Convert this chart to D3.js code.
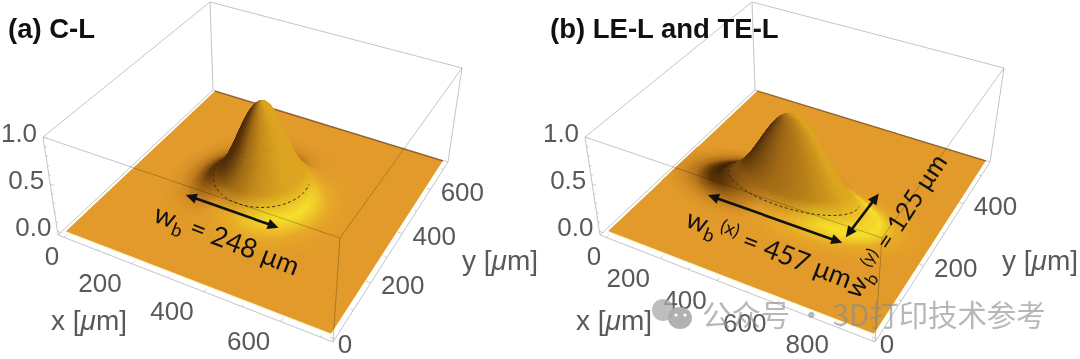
<!DOCTYPE html>
<html>
<head>
<meta charset="utf-8">
<script src="https://cdn.jsdelivr.net/npm/d3@7"></script>
<style>
  html, body { margin:0; padding:0; background:#fff; }
  svg { display:block; }
</style>
</head>
<body>
<div id="plot"></div>
<script>
// beam height vs normalised radius (rho = r / (w/2)), step 0.1
const rhoStep = 0.1;
const profileA = [1, .98, .925, .84, .73, .61, .49, .385, .30, .235, .18, .125, .085, .055, .035, .02, .012, .006, .003, .001, 0, 0, 0];
const profileB = [.95, .935, .885, .80, .69, .575, .46, .36, .28, .22, .17, .12, .085, .055, .035, .02, .012, .006, .003, .001, 0, 0, 0];

const xTicksA = [0, 200, 400, 600];
const yTicksA = [0, 200, 400, 600];
const xTicksB = [0, 200, 400, 600, 800];
const yTicksB = [0, 200, 400];
const zTicks = [0, 0.5, 1];

const widthA = [248, 248];
const widthB = [457, 125];
const centerA = [352, 360];
const centerB = [430, 235];
const rangeA = [720, 720];
const rangeB = [900, 540];

let [ figWidth, figHeight ] = [1080, 359];
let svg = d3.select('#plot').append('svg')
            .attr('width', figWidth)
            .attr('height', figHeight);

const sansFont = '"Liberation Sans", Arial, sans-serif';
const noteFont = 'Lato, "Open Sans", sans-serif';

// shading ramps: t is the lit side of the surface normal, 0 = flat
const footColor = d3.scaleLinear()
    .domain([-1, -.6, -.25, 0, .25, .6, 1])
    .range(['#3e2206', '#5c3509', '#b0701a', '#e29b2b', '#e8ac28', '#f6e02c', '#f2cf2a'])
    .clamp(true);
const bodyColor = d3.scaleLinear()
    .domain([-1, -.55, -.1, .35, .8, 1.3])
    .range(['#3a2006', '#57330b', '#a06a16', '#c58c1b', '#dba320', '#e3ab24'])
    .clamp(true);

// square -> quad perspective map, corners in order (0,0) (1,0) (1,1) (0,1)
function quadMap(q){
  let [[x0,y0],[x1,y1],[x2,y2],[x3,y3]] = q;
  let sx = x0-x1+x2-x3, sy = y0-y1+y2-y3;
  let dx1 = x1-x2, dx2 = x3-x2, dy1 = y1-y2, dy2 = y3-y2;
  let den = dx1*dy2-dx2*dy1;
  let g = (sx*dy2-dx2*sy)/den, h = (dx1*sy-sx*dy1)/den;
  let a = x1-x0+g*x1, b = x3-x0+h*x3, d = y1-y0+g*y1, e = y3-y0+h*y3;
  return (u,v) => {
    let w = g*u+h*v+1;
    return [(a*u+b*v+x0)/w, (d*u+e*v+y0)/w];
  };
}

function drawPanel(p){
  let g = svg.append('g').attr('id', p.id);

  let scX = d3.scaleLinear().domain(p.xDomain).range([0,1]);
  let scY = d3.scaleLinear().domain(p.yDomain).range([0,1]);
  let scZ = d3.scaleLinear().domain([-0.04,1]).range([0,1]);
  let floorMap = quadMap(p.floor), topMap = quadMap(p.top);

  let project = function(x,y,z){
    let a = floorMap(scX(x),scY(y)), b = topMap(scX(x),scY(y)), w = scZ(z);
    return [a[0]+(b[0]-a[0])*w, a[1]+(b[1]-a[1])*w];
  };

  let [x0,x1] = p.xDomain, [y0,y1] = p.yDomain;
  let [xMax,yMax] = p.range;
  let line = d3.line();
  let boxLine = '#c4c4c4';

  let edge = function(a,b,blend){
    g.append('path').attr('d', line([a,b]))
      .attr('fill','none').attr('stroke',boxLine).attr('stroke-width',1)
      .style('mix-blend-mode', blend ? 'multiply' : null);
  };

  // back of the box
  edge(project(x0,y1,-0.04), project(x0,y1,1));
  edge(project(x0,y0,1), project(x0,y1,1));
  edge(project(x0,y1,1), project(x1,y1,1));
  edge(project(x1,y1,1), project(x1,y1,-0.04));
  edge(project(x0,y0,-0.04), project(x0,y1,-0.04));
  edge(project(x0,y1,-0.04), project(x1,y1,-0.04));

  // floor of the surface
  let corners = [[0,0],[xMax,0],[xMax,yMax],[0,yMax]].map(c => project(c[0],c[1],0));
  g.append('path')
    .attr('d', line(corners.map((c,i) => [c[0], c[1]+(i<2?1.2:0)]))+'Z')
    .attr('fill','#fdf3c8');
  g.append('path')
    .attr('d', line(corners)+'Z')
    .attr('fill','#e29b2b');
  g.append('path')
    .attr('d', line([corners[3],corners[2]]))
    .attr('fill','none').attr('stroke','#8f5f25').attr('stroke-width',1.2);

  // surface height
  let profile = [...p.profile.slice(1).reverse(), ...p.profile];
  let rhoMax = (p.profile.length-1)*rhoStep;
  let basis = d3.interpolateBasis(profile);
  let height = function(x,y){
    let rho = Math.hypot((x-p.center[0])/(p.width[0]/2), (y-p.center[1])/(p.width[1]/2));
    if (rho >= rhoMax) return 0;
    return basis((rho+rhoMax)/(2*rhoMax));
  };

  // surface cells, far ones first
  let n = 110;
  let xs = d3.scaleLinear().domain([0,n]).range([p.center[0]-p.width[0]*1.1, p.center[0]+p.width[0]*1.1]);
  let ys = d3.scaleLinear().domain([0,n]).range([p.center[1]-p.width[1]*1.1, p.center[1]+p.width[1]*1.1]);
  let cells = [];
  d3.range(n).forEach(i => d3.range(n).forEach(j => {
    let xa = xs(i), xb = xs(i+1), ya = ys(j), yb = ys(j+1);
    if (xa < 0 || ya < 0 || xb > xMax || yb > yMax) return;
    let za = height(xa,ya), zb = height(xb,ya), zc = height(xb,yb), zd = height(xa,yb);
    if (Math.max(za,zb,zc,zd) <= 0) return;
    // slopes in box units
    let gx = (zb+zc-za-zd)/2/((xb-xa)/xMax)*p.zScale;
    let gy = (zc+zd-za-zb)/2/((yb-ya)/yMax)*p.zScale;
    let len = Math.hypot(gx,gy,1);
    let nz = 1/len;
    let t = (-gx*p.light[0]-gy*p.light[1])/len;
    let tf = (-gx*p.footLight[0]-gy*p.footLight[1])/len*p.footGain;
    // low on the foot the slope only tints the floor, higher up the body ramp takes over
    let w = d3.scaleLinear().domain([.1,.26]).range([0,1]).clamp(true)((za+zb+zc+zd)/4);
    let col = d3.interpolateRgb(footColor(tf-.2*(1-nz)), bodyColor(t+.7*nz*nz))(w);
    let pts = [project(xa,ya,za),project(xb,ya,zb),project(xb,yb,zc),project(xa,yb,zd)];
    cells.push({pts, col, depth: project((xa+xb)/2,(ya+yb)/2,0)[1]});
  }));
  cells.sort((a,b) => d3.ascending(a.depth,b.depth));
  g.append('g').selectAll('path').data(cells).join('path')
    .attr('d', d => line(d.pts)+'Z')
    .attr('fill', d => d.col)
    .attr('stroke', d => d.col)
    .attr('stroke-width', .7);

  // dashed contour, front side only
  let contour = d3.range(p.dash[0], p.dash[1], .04).map(a => {
    let x = p.center[0]+Math.cos(a)*p.width[0]/2, y = p.center[1]+Math.sin(a)*p.width[1]/2;
    return project(x,y,height(x,y));
  });
  g.append('path').attr('d', d3.line().curve(d3.curveCatmullRom)(contour))
    .attr('fill','none').attr('stroke','#3f2a06').attr('stroke-width',1)
    .attr('stroke-dasharray','3 2.5');

  // front of the box, drawn over the surface
  edge(project(x0,y0,1), project(x1,y0,1), true);
  edge(project(x1,y0,1), project(x1,y1,1), true);
  edge(project(x1,y0,1), project(x1,y0,-0.04), true);
  edge(project(x0,y0,-0.04), project(x0,y0,1));
  edge(project(x0,y0,-0.04), project(x1,y0,-0.04));
  edge(project(x1,y0,-0.04), project(x1,y1,-0.04));

  // minor and major ticks on the box edges
  let tickLine = function(a,b){
    g.append('path').attr('d', line([a,b]))
      .attr('fill','none').attr('stroke','#bdbdbd').attr('stroke-width',.8);
  };
  d3.range(0, xMax+1, 100).forEach(v => {
    let a = project(v,y0,-0.04), b = project(v, y0+(y1-y0)*(v%200 ? .008 : .016), -0.04);
    tickLine(a,b);
  });
  d3.range(0, yMax+1, 100).forEach(v => {
    let a = project(x1,v,-0.04), b = project(x1-(x1-x0)*(v%200 ? .008 : .016), v, -0.04);
    tickLine(a,b);
  });
  d3.range(0, 1.01, .1).forEach(v => {
    let a = project(x0,y0,v), b = project(x0+(x1-x0)*(Math.round(v*10)%5 ? .008 : .016), y0, v);
    tickLine(a,b);
  });

  // tick labels
  let label = function(str,pos,dx,dy){
    return g.append('text').attr('x',pos[0]+dx).attr('y',Math.min(pos[1]+dy,344))
      .attr('dy','.35em').attr('text-anchor','middle')
      .attr('font-family',sansFont).attr('font-size',p.labelSize).attr('fill','#595959')
      .text(str);
  };
  p.xTicks.forEach(v => {
    let off = v === 0 ? p.xZero : p.xOff;
    label(v, project(v,y0,-0.04), off[0], off[1]);
  });
  p.yTicks.forEach(v => {
    let off = v === 0 ? p.yZero : p.yOff;
    label(v, project(x1,v,-0.04), off[0], off[1]);
  });
  zTicks.forEach(v => {
    label(d3.format('.1f')(v), project(x0,y0,v), p.zOff[0], p.zOff[1]);
  });

  // axis titles
  let axisTitle = function(name,pos){
    let t = g.append('text').attr('x',pos[0]).attr('y',pos[1]).attr('dy','.35em')
      .attr('text-anchor','middle')
      .attr('font-family',sansFont).attr('font-size',28).attr('fill','#595959');
    t.append('tspan').text(name+' [');
    t.append('tspan').attr('font-style','italic').text('\u03bc');
    t.append('tspan').text('m]');
  };
  axisTitle('x', p.xTitle);
  axisTitle('y', p.yTitle);

  // panel title
  g.append('text').attr('x',p.title.x).attr('y',p.title.y)
    .attr('font-family',sansFont).attr('font-weight','bold').attr('font-size',p.title.size)
    .attr('fill','#111').text(p.title.text);

  // annotations
  p.arrows.forEach(a => {
    let s = project(a[0],a[1],0), e = project(a[2],a[3],0);
    let ang = Math.atan2(e[1]-s[1],e[0]-s[0]);
    g.append('path').attr('d', line([s,e])).attr('stroke','#111').attr('stroke-width',2.6);
    [[s,ang+Math.PI],[e,ang]].forEach(([c,th]) => {
      let head = [[4,0],[-7,5.2],[-7,-5.2]].map(h => [
        c[0]+h[0]*Math.cos(th)-h[1]*Math.sin(th),
        c[1]+h[0]*Math.sin(th)+h[1]*Math.cos(th)]);
      g.append('path').attr('d', line(head)+'Z').attr('fill','#111');
    });
  });
  p.notes.forEach(nt => {
    let t = g.append('text')
      .attr('transform',`translate(${nt.x},${nt.y}) rotate(${nt.angle})`)
      .attr('font-family',noteFont).attr('font-size',nt.size).attr('fill','#111');
    t.append('tspan').text('w');
    t.append('tspan').attr('dy',6).attr('font-size',nt.size*.68).text('b');
    if (nt.sup) {
      t.append('tspan').attr('dy',-14).attr('dx',3).attr('font-size',nt.size*.68).text(nt.sup);
      t.append('tspan').attr('dy',8).text(nt.text);
    } else {
      t.append('tspan').attr('dy',-6).text(nt.text);
    }
  });
}

drawPanel({
  id:'panelA', range:rangeA, center:centerA, width:widthA, profile:profileA,
  xDomain:[-18,730], yDomain:[-10,738], zScale:.42, light:[.9,.1], footLight:[.85,-.5], footGain:1, dash:[2.75,6.55],
  floor:[[58,235],[333,342],[448,162],[213,90]],
  top:[[43,137],[340,238],[462,68],[210,2]],
  xTicks:xTicksA, yTicks:yTicksA, labelSize:26,
  xOff:[-32,19], xZero:[-12,19], yOff:[32,2], yZero:[10,14], zOff:[-24,-4],
  xTitle:[89,320], yTitle:[500,260],
  title:{x:8,y:38,size:27.5,text:'(a) C-L'},
  arrows:[[195,260,443,260]],
  notes:[{x:152,y:221,angle:21,size:27,text:' = 248 \u03bcm'}]
});

drawPanel({
  id:'panelB', range:rangeB, center:centerB, width:widthB, profile:profileB,
  xDomain:[-23,910], yDomain:[-8,553], zScale:.42, light:[.9,.1], footLight:[.95,-.15], footGain:1.9, dash:[2.9,6.4],
  floor:[[600,235],[875,342],[990,162],[755,90]],
  top:[[585,137],[882,238],[1004,68],[752,2]],
  xTicks:xTicksB, yTicks:yTicksB, labelSize:26,
  xOff:[-32,19], xZero:[-12,19], yOff:[32,2], yZero:[10,14], zOff:[-24,-4],
  xTitle:[614,320], yTitle:[1040,260],
  title:{x:550,y:38,size:27.5,text:'(b) LE-L and TE-L'},
  arrows:[[187,176,643,176],[654,203,654,327]],
  notes:[
    {x:684,y:226,angle:21,size:27,sup:'(x)',text:' = 457 \u03bcm'},
    {x:858,y:300,angle:-57,size:25.5,sup:'(y)',text:' = 125 \u03bcm'}
  ]
});

// watermark
let mark = svg.append('g').attr('id','watermark');
mark.append('ellipse').attr('cx',663).attr('cy',310).attr('rx',11).attr('ry',11).attr('fill','#a8a8a8').attr('opacity',.75);
mark.append('ellipse').attr('cx',680).attr('cy',318).attr('rx',12).attr('ry',11).attr('fill','#a8a8a8').attr('opacity',.9);
[[676,315],[685,315]].forEach(c => {
  mark.append('circle').attr('cx',c[0]).attr('cy',c[1]).attr('r',1.6).attr('fill','#fff');
});
mark.append('text').attr('x',702).attr('y',326)
  .attr('font-family','"Noto Sans CJK SC"').attr('font-size',29.4)
  .attr('fill','#8c8c8c').attr('opacity',.62)
  .text('\u516c\u4f17\u53f7 \u00b7 3D\u6253\u5370\u6280\u672f\u53c2\u8003');
</script>
</body>
</html>
